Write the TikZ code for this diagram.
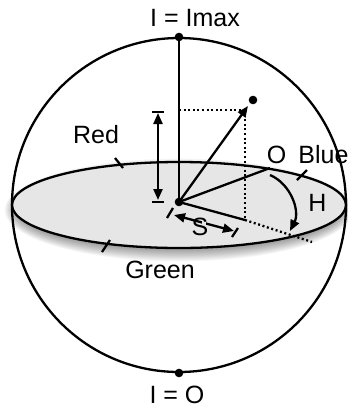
\documentclass[tikz,border=0pt]{standalone}
\usepackage{fontspec}
\setmainfont{Liberation Sans}
\usetikzlibrary{arrows.meta}
\definecolor{disc}{HTML}{E6E6E6}
\tikzset{
  ln/.style={line width=2.3pt, line cap=butt},
  dotln/.style={line width=2.3pt, dash pattern=on 2pt off 2.6pt},
  tip/.style={-{Triangle[length=11pt,width=9pt]}},
  dtip/.style={{Triangle[length=11pt,width=9pt]}-{Triangle[length=11pt,width=9pt]}},
  lbl/.style={font=\fontsize{25}{29}\selectfont, inner sep=0pt, anchor=base},
}
\begin{document}
\begin{tikzpicture}[x=1pt,y=-1pt]
\useasboundingbox (0,0) rectangle (348,408);
% named points
\coordinate (C) at (179,205);
\coordinate (top) at (179,37);
\coordinate (bot) at (179,373);
\coordinate (O) at (179,202);
\coordinate (P) at (253,100);
\coordinate (Ptip) at (248,106);
\coordinate (Ph) at (179,110);
\coordinate (Pv) at (245,110);
\coordinate (Pf) at (245,220);
\coordinate (Pe) at (312,242);
\coordinate (Ob) at (270,168);
% shadow
\foreach \i in {0,...,16}
  \fill[black,opacity=0.032] (179,{210}) ellipse ({160+\i*0.9} and {37+\i*0.9});
% sphere
\draw[ln] (C) circle (167);
% disc
\fill[disc] (C) ellipse (167 and 43);
\draw[ln] (C) ellipse (167 and 43);
% ticks on disc
\draw[ln] (115,158) -- (123,168);
\draw[ln] (102,252) -- (110,240);
\draw[ln] (297,180) -- (307,170);
% axis
\draw[ln] (top) -- (O);
% vector
\draw[dotln] (Ph) -- (Pv);
\draw[dotln] (Pv) -- (Pf);
\draw[ln,tip] (O) -- (Ptip);
\fill (P) circle (4.3);
% hue reference line
\draw[ln] (O) -- (Ob);
% saturation projection
\draw[ln] (O) -- (Pf);
\draw[dotln] (Pf) -- (Pe);
% intensity double arrow
\coordinate (ia) at (158,113);
\coordinate (ib) at (158,200);
\draw[ln] (152,112) -- (164,112);
\draw[ln] (152,202) -- (164,202);
\draw[ln,dtip] (ia) -- (ib);
% S double arrow
\coordinate (sA) at (174,215);
\coordinate (sB) at (234,231);
\draw[ln] (167,218) -- (173,208);
\draw[ln] (232,237) -- (238,228);
\draw[ln,dtip] (sA) -- node[fill=disc,inner xsep=2pt,inner ysep=0pt,minimum height=12pt] (Slbl) {} (sB);
\node[lbl] (S) at (200,235.5) {S};
% H arc
\draw[ln,tip] (270,175) .. controls (291,184) and (300,211) .. (290,231);
% points
\fill (O) circle (4.3);
\fill (top) circle (4.3);
\fill (bot) circle (4.3);
% labels
\node[lbl] (Imax) at (195,26.5) {I = Imax};
\node[lbl] (I0) at (177,403.5) {I = O};
\node[lbl] (Red) at (96,143) {Red};
\node[lbl] (Ol) at (276.5,163.5) {O};
\node[lbl] (Blue) at (323.5,163.5) {Blue};
\node[lbl] (H) at (317.5,211) {H};
\node[lbl] (Green) at (160,278.5) {Green};
\end{tikzpicture}
\end{document}
